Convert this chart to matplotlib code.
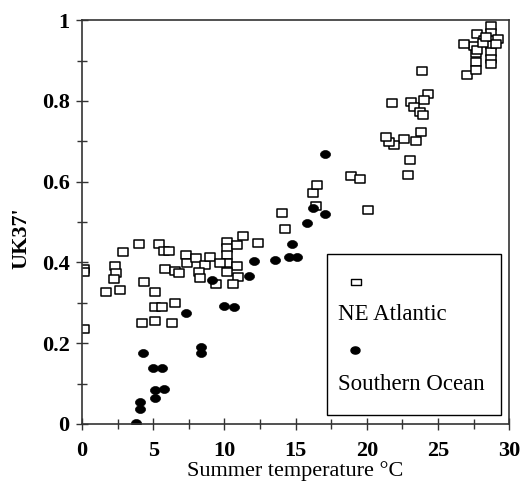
import matplotlib
matplotlib.use("Agg")
import matplotlib.pyplot as plt
from matplotlib.path import Path
from matplotlib.patches import Rectangle
from matplotlib.ticker import MultipleLocator
import numpy as np

# NE Atlantic (open squares)
atl_t = [0.14, 0.14, 0.14, 1.69, 2.28, 2.37, 2.25, 2.63, 2.84, 3.99, 5.42, 5.77, 6.13,
         4.32, 5.14, 5.09, 5.61, 4.20, 5.14, 6.31, 6.55, 5.85, 6.55, 6.83, 7.30, 7.35,
         8.0, 8.66, 8.97, 8.19, 8.26, 9.37, 10.19, 10.19, 10.19, 10.19, 10.89, 11.29,
         12.37, 9.72, 10.89, 10.19, 10.96, 10.59, 14.06, 14.23, 16.24, 16.53, 16.41,
         18.92, 19.53, 20.12, 21.76, 23.87, 24.27, 24.04, 23.1, 23.33, 23.75, 23.92,
         23.8, 23.45, 22.63, 21.92, 21.57, 21.34, 23.05, 22.87, 27.04, 27.68, 27.68,
         27.56, 27.75, 26.85, 27.75, 28.26, 28.73, 28.73, 28.73, 28.73, 28.73, 28.73,
         28.73, 29.2, 29.08, 27.7, 28.15, 28.38]
atl_u = [0.385, 0.377, 0.234, 0.326, 0.392, 0.375, 0.359, 0.333, 0.425, 0.446, 0.446, 0.429, 0.429,
         0.352, 0.328, 0.289, 0.290, 0.251, 0.256, 0.251, 0.299, 0.385, 0.380, 0.373, 0.418, 0.398,
         0.41, 0.394, 0.414, 0.377, 0.362, 0.347, 0.451, 0.435, 0.418, 0.398, 0.443, 0.465,
         0.449, 0.398, 0.391, 0.377, 0.365, 0.347, 0.523, 0.484, 0.571, 0.592, 0.540,
         0.614, 0.607, 0.531, 0.794, 0.875, 0.818, 0.802, 0.798, 0.786, 0.773, 0.765,
         0.724, 0.701, 0.705, 0.691, 0.699, 0.710, 0.653, 0.616, 0.864, 0.897, 0.919,
         0.936, 0.927, 0.942, 0.965, 0.950, 0.985, 0.969, 0.952, 0.938, 0.922, 0.905,
         0.891, 0.954, 0.942, 0.876, 0.944, 0.959]

# Southern Ocean (filled circles)
so_t = [3.76, 4.08, 4.08, 4.27, 4.95, 5.61, 5.14, 5.73, 5.09, 7.30, 8.36, 8.36, 9.13,
        10.0, 10.66, 11.69, 12.07, 13.54, 14.53, 15.12, 14.74, 15.82, 16.24, 17.06, 17.06]
so_u = [0.003, 0.055, 0.036, 0.177, 0.138, 0.138, 0.084, 0.086, 0.065, 0.274, 0.190, 0.175, 0.356,
        0.293, 0.290, 0.366, 0.403, 0.405, 0.413, 0.413, 0.446, 0.499, 0.536, 0.520, 0.668]

x_ticks = [0, 5, 10, 15, 20, 25, 30]
y_ticks = [0, 0.2, 0.4, 0.6, 0.8, 1.0]
y_tick_labels = ["0", "0.2", "0.4", "0.6", "0.8", "1"]
series_labels = ["NE Atlantic", "Southern Ocean"]

serif = "Liberation Serif"

# wide rectangle marker and wide ellipse marker
rect_marker = Path([(-1.25, -0.85), (1.25, -0.85), (1.25, 0.85), (-1.25, 0.85), (-1.25, -0.85)],
                   [Path.MOVETO, Path.LINETO, Path.LINETO, Path.LINETO, Path.CLOSEPOLY])
th = np.linspace(0, 2 * np.pi, 60)
ell_marker = Path(np.column_stack([1.2 * np.cos(th), 0.95 * np.sin(th)]))

fig = plt.figure(figsize=(5.2, 4.93), dpi=100)
ax = fig.add_axes([0.158, 0.140, 0.821, 0.819])

ax.plot(atl_t, atl_u, linestyle="none", marker=rect_marker, markersize=7.6,
        markerfacecolor="white", markeredgecolor="black", markeredgewidth=1.1)
ax.plot(so_t, so_u, linestyle="none", marker=ell_marker, markersize=7.2,
        markerfacecolor="black", markeredgecolor="black", markeredgewidth=0.5)

ax.set_xlim(0, 30)
ax.set_ylim(0, 1)
ax.set_xticks(x_ticks)
ax.set_xticklabels([str(v) for v in x_ticks])
ax.set_yticks(y_ticks)
ax.set_yticklabels(y_tick_labels)
ax.xaxis.set_minor_locator(MultipleLocator(2.5))
ax.yaxis.set_minor_locator(MultipleLocator(0.1))
ax.tick_params(which="both", direction="inout", length=8, width=1.0, color="#333333",
               top=False, right=False)
ax.tick_params(which="minor", length=7)
ax.tick_params(axis="x", which="major", pad=8)
ax.tick_params(axis="y", which="major", pad=5)
for lab in ax.get_xticklabels() + ax.get_yticklabels():
    lab.set_fontfamily(serif)
    lab.set_fontweight("bold")
    lab.set_fontsize(16)
for s in ax.spines.values():
    s.set_linewidth(1.2)
    s.set_color("#333333")

ax.set_xlabel("Summer temperature °C", fontfamily=serif, fontsize=16, labelpad=0)
ax.set_ylabel("UK37'", fontfamily=serif, fontsize=16, fontweight="bold")
ax.yaxis.set_label_coords(-0.118, 0.46)

# legend box drawn manually (marker above label)
ax.add_patch(Rectangle((0.574, 0.022), 0.407, 0.40, transform=ax.transAxes,
                       facecolor="white", edgecolor="black", linewidth=1.0, zorder=5))
ax.plot([0.641], [0.352], transform=ax.transAxes, linestyle="none", marker=rect_marker,
        markersize=7.0, markerfacecolor="white", markeredgecolor="black",
        markeredgewidth=1.0, zorder=6)
ax.text(0.600, 0.272, series_labels[0], transform=ax.transAxes, fontfamily=serif,
        fontsize=16.5, va="center", ha="left", zorder=6)
ax.plot([0.639], [0.182], transform=ax.transAxes, linestyle="none", marker=ell_marker,
        markersize=6.5, markerfacecolor="black", markeredgecolor="black", zorder=6)
ax.text(0.600, 0.098, series_labels[1], transform=ax.transAxes, fontfamily=serif,
        fontsize=16.5, va="center", ha="left", zorder=6)

fig.savefig("out.png", dpi=100, facecolor="white")
